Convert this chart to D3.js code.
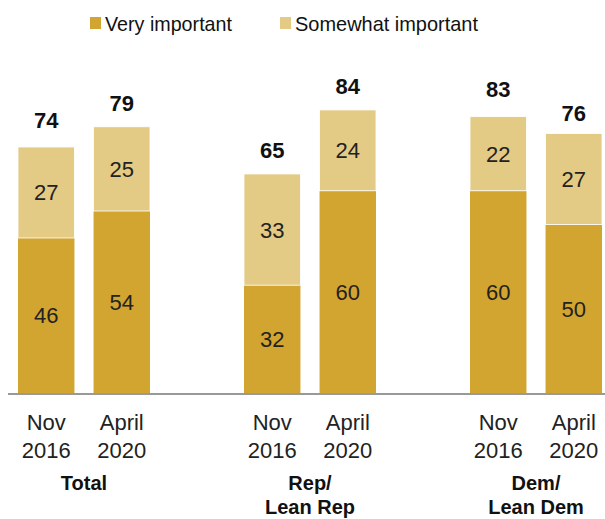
<!DOCTYPE html>
<html><head><meta charset="utf-8">
<script src="https://cdn.jsdelivr.net/npm/d3@7"></script>
<style>body{margin:0;background:#fff}svg{display:block}text{font-family:"Liberation Sans",Arial,sans-serif}</style>
</head><body><svg id="c" width="605" height="519"></svg>
<script>
const groups = ["Total", "Rep/Lean Rep", "Dem/Lean Dem"];
const groupLines = [["Total"], ["Rep/", "Lean Rep"], ["Dem/", "Lean Dem"]];
const periods = ["Nov 2016", "April 2020"];
const periodLines = [["Nov", "2016"], ["April", "2020"]];
const veryImportant = [[46, 54], [32, 60], [60, 50]];
const somewhatImportant = [[27, 25], [33, 24], [22, 27]];
const totals = [[74, 79], [65, 84], [83, 76]];
const seriesNames = ["Very important", "Somewhat important"];
const colors = ["#D2A530", "#E3CA85"];

const svg = d3.select("#c");
const x0 = d3.scaleBand().domain(groups).range([18, 602]).paddingInner(0.416).paddingOuter(0);
const x1 = d3.scaleBand().domain(periods).range([0, x0.bandwidth()]).paddingInner(0.253).paddingOuter(0);
const y = d3.scaleLinear().domain([0, 100]).range([393, 56]);

// legend
const leg = [{x: 90, name: seriesNames[0], c: colors[0]}, {x: 280, name: seriesNames[1], c: colors[1]}];
leg.forEach(l => {
  svg.append("rect").attr("x", l.x).attr("y", 17).attr("width", 11).attr("height", 12).attr("fill", l.c);
  svg.append("text").attr("x", l.x + 15).attr("y", 31).attr("font-size", 21).attr("fill", "#111")
    .attr("textLength", l.x === 90 ? 127 : 183).attr("lengthAdjust", "spacingAndGlyphs").text(l.name);
});

groups.forEach((g, gi) => {
  periods.forEach((p, pi) => {
    const bx = x0(g) + x1(p), bw = x1.bandwidth();
    const v = veryImportant[gi][pi], s = somewhatImportant[gi][pi], t = totals[gi][pi];
    svg.append("rect").attr("x", bx).attr("width", bw).attr("y", y(v)).attr("height", y(0) - y(v)).attr("fill", colors[0]);
    svg.append("rect").attr("x", bx).attr("width", bw).attr("y", y(v + s)).attr("height", y(v) - y(v + s)).attr("fill", colors[1])
      .attr("stroke", "#fff").attr("stroke-width", 0.8);
    svg.append("text").attr("x", bx + bw / 2).attr("y", (y(0) + y(v)) / 2 + 8).attr("text-anchor", "middle")
      .attr("font-size", 22).attr("fill", "#222").text(v);
    svg.append("text").attr("x", bx + bw / 2).attr("y", (y(v) + y(v + s)) / 2 + 8).attr("text-anchor", "middle")
      .attr("font-size", 22).attr("fill", "#222").text(s);
    svg.append("text").attr("x", bx + bw / 2).attr("y", y(t) - 16).attr("text-anchor", "middle")
      .attr("font-size", 22).attr("font-weight", "bold").attr("fill", "#111").text(t);
    periodLines[pi].forEach((ln, li) => {
      svg.append("text").attr("x", bx + bw / 2).attr("y", 430 + li * 28).attr("text-anchor", "middle")
        .attr("font-size", 22).attr("fill", "#222").text(ln);
    });
  });
  groupLines[gi].forEach((ln, li) => {
    svg.append("text").attr("x", x0(g) + x0.bandwidth() / 2).attr("y", 490 + li * 24).attr("text-anchor", "middle")
      .attr("font-size", 20).attr("font-weight", "bold").attr("fill", "#111").text(ln);
  });
});

svg.append("line").attr("x1", 8).attr("x2", 605).attr("y1", y(0) + 1).attr("y2", y(0) + 1).attr("stroke", "#999").attr("stroke-width", 2);
</script></body></html>
